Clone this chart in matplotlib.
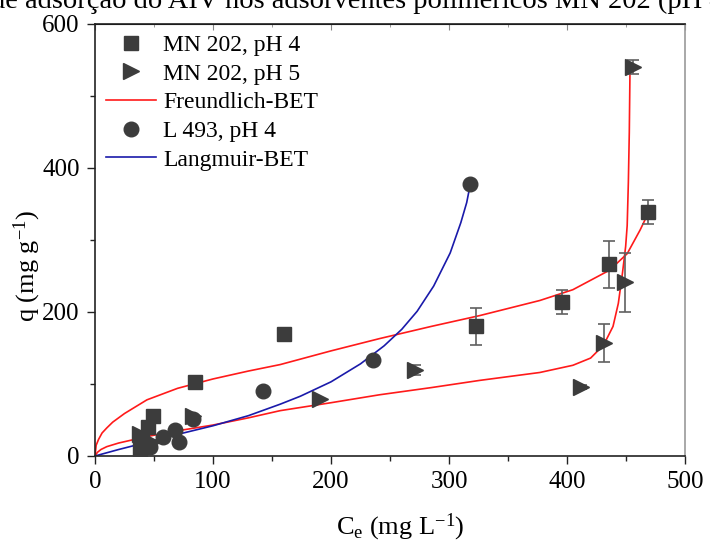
import matplotlib
matplotlib.use("Agg")
import matplotlib.pyplot as plt
from matplotlib.lines import Line2D
from matplotlib.ticker import MultipleLocator

plt.rcParams['font.family'] = ['Liberation Serif', 'DejaVu Serif']
plt.rcParams['mathtext.fontset'] = 'custom'
plt.rcParams['mathtext.rm'] = 'Liberation Serif'
plt.rcParams['mathtext.it'] = 'Liberation Serif:italic'

# ---- data ----
mn4_x = [38, 40, 45, 49, 85, 160, 323, 396, 436, 469]
mn4_q = [10, 22, 40, 56, 103, 169, 180, 214, 266, 339]
mn4_err = [0, 0, 0, 0, 0, 0, 26, 17, 33, 17]

mn5_x = [38, 42, 48, 83, 191, 271, 412, 431, 449, 456]
mn5_q = [30, 15, 20, 55, 79, 119, 96, 157, 241, 540]
mn5_err = [0, 0, 0, 0, 0, 7, 3, 26, 41, 10]

l493_x = [42, 47, 58, 68, 71, 83, 142, 236, 318]
l493_q = [17, 12, 27, 36, 20, 52, 90, 134, 378]

fb4_x = [0, 1, 3, 6, 10, 15, 25, 44, 70, 100, 130, 157, 200, 241, 285, 326, 377, 405, 436, 451, 462, 469]
fb4_q = [0, 15, 23, 32, 39, 47, 59, 78, 94, 107, 118, 127, 146, 163, 180, 195, 216, 231, 258, 281, 314, 338]

fb5_x = [0, 2, 5, 10, 20, 44, 70, 100, 130, 157, 200, 241, 285, 326, 377, 405, 420, 431, 439, 443.5, 447, 449.7, 451, 452, 452.8, 453.4]
fb5_q = [0, 5, 9, 13, 18, 27, 35, 43, 53, 63, 74, 85, 95, 105, 116, 126, 136, 154, 180, 212, 254, 291, 320, 380, 450, 538]

lb_x = [0, 20, 44, 70, 100, 130, 157, 174, 200, 225, 245, 260, 273, 287, 301, 310, 315, 318]
lb_q = [0, 9, 19, 30, 42, 56, 72, 83, 103, 128, 153, 176, 201, 236, 282, 324, 352, 377]

x_ticks = [0, 100, 200, 300, 400, 500]
y_ticks = [0, 200, 400, 600]

title_text = "de adsorção do AIV nos adsorventes poliméricos MN 202 (pH 4 e 5) e L 493"

# ---- figure ----
fig = plt.figure(figsize=(7.1, 5.45), dpi=100)
ax = fig.add_axes([95/710, 1-456/545, 590/710, 432/545])

mcol = '#3c3c3c'
ecol = '#606060'

ax.plot(fb4_x, fb4_q, color='#ff1a1a', lw=1.2, zorder=2)
ax.plot(fb5_x, fb5_q, color='#ff1a1a', lw=1.2, zorder=2)
ax.plot(lb_x, lb_q, color='#1a1aaa', lw=1.2, zorder=2)

ax.errorbar(mn4_x, mn4_q, yerr=mn4_err, fmt='s', color=mcol, ms=9.5,
            ecolor=ecol, elinewidth=1.2, capsize=4, capthick=1.2, zorder=3)
ax.errorbar(mn5_x, mn5_q, yerr=mn5_err, fmt='>', color=mcol, ms=11,
            ecolor=ecol, elinewidth=1.2, capsize=4, capthick=1.2, zorder=3)
ax.plot(l493_x, l493_q, 'o', color=mcol, ms=10.5, zorder=3)

ax.set_xlim(0, 500)
ax.set_ylim(0, 600)
ax.set_xticks(x_ticks)
ax.set_yticks(y_ticks)
ax.xaxis.set_minor_locator(MultipleLocator(50))
ax.yaxis.set_minor_locator(MultipleLocator(100))
ax.tick_params(axis='both', which='major', direction='out', length=6, width=1,
               labelsize=18, colors='#222222', labelcolor='black', pad=5)
ax.tick_params(axis='both', which='minor', direction='out', length=3.5, width=1, colors='#222222')
for s in ax.spines.values():
    s.set_linewidth(1.2)
    s.set_color('#222222')
ax.spines['right'].set_color('#999999')
# top ticks inward
secx = ax.secondary_xaxis('top')
secx.set_xticks(x_ticks)
secx.xaxis.set_minor_locator(MultipleLocator(50))
secx.tick_params(direction='in', length=4, which='major', labeltop=False, colors='#888888')
secx.tick_params(direction='in', length=2.5, which='minor', colors='#888888')
secx.set_xticklabels([])

ax.set_xlabel(r'C$_\mathrm{e}$ (mg L$^{-1}$)', fontsize=19)
ax.set_ylabel('q (mg g$^{-1}$)', fontsize=19)
ax.xaxis.set_label_coords(0.517, -0.128)
ax.yaxis.set_label_coords(-0.088, 0.44)

handles = [
    Line2D([], [], marker='s', ls='none', color=mcol, ms=9.5),
    Line2D([], [], marker='>', ls='none', color=mcol, ms=11),
    Line2D([], [], color='#ff1a1a', lw=1.2),
    Line2D([], [], marker='o', ls='none', color=mcol, ms=10.5),
    Line2D([], [], color='#1a1aaa', lw=1.2),
]
labels = ['MN 202, pH 4', 'MN 202, pH 5', 'Freundlich-BET', 'L 493, pH 4', 'Langmuir-BET']
ax.legend(handles, labels, loc='upper left', frameon=False, fontsize=17,
          handlelength=2.15, handletextpad=0.3, labelspacing=0.3,
          borderaxespad=0.2, borderpad=0.25)

fig.text(-0.012, 0.997, title_text, fontsize=20.5, ha='left', va='center')

fig.savefig('out.png', dpi=100)
